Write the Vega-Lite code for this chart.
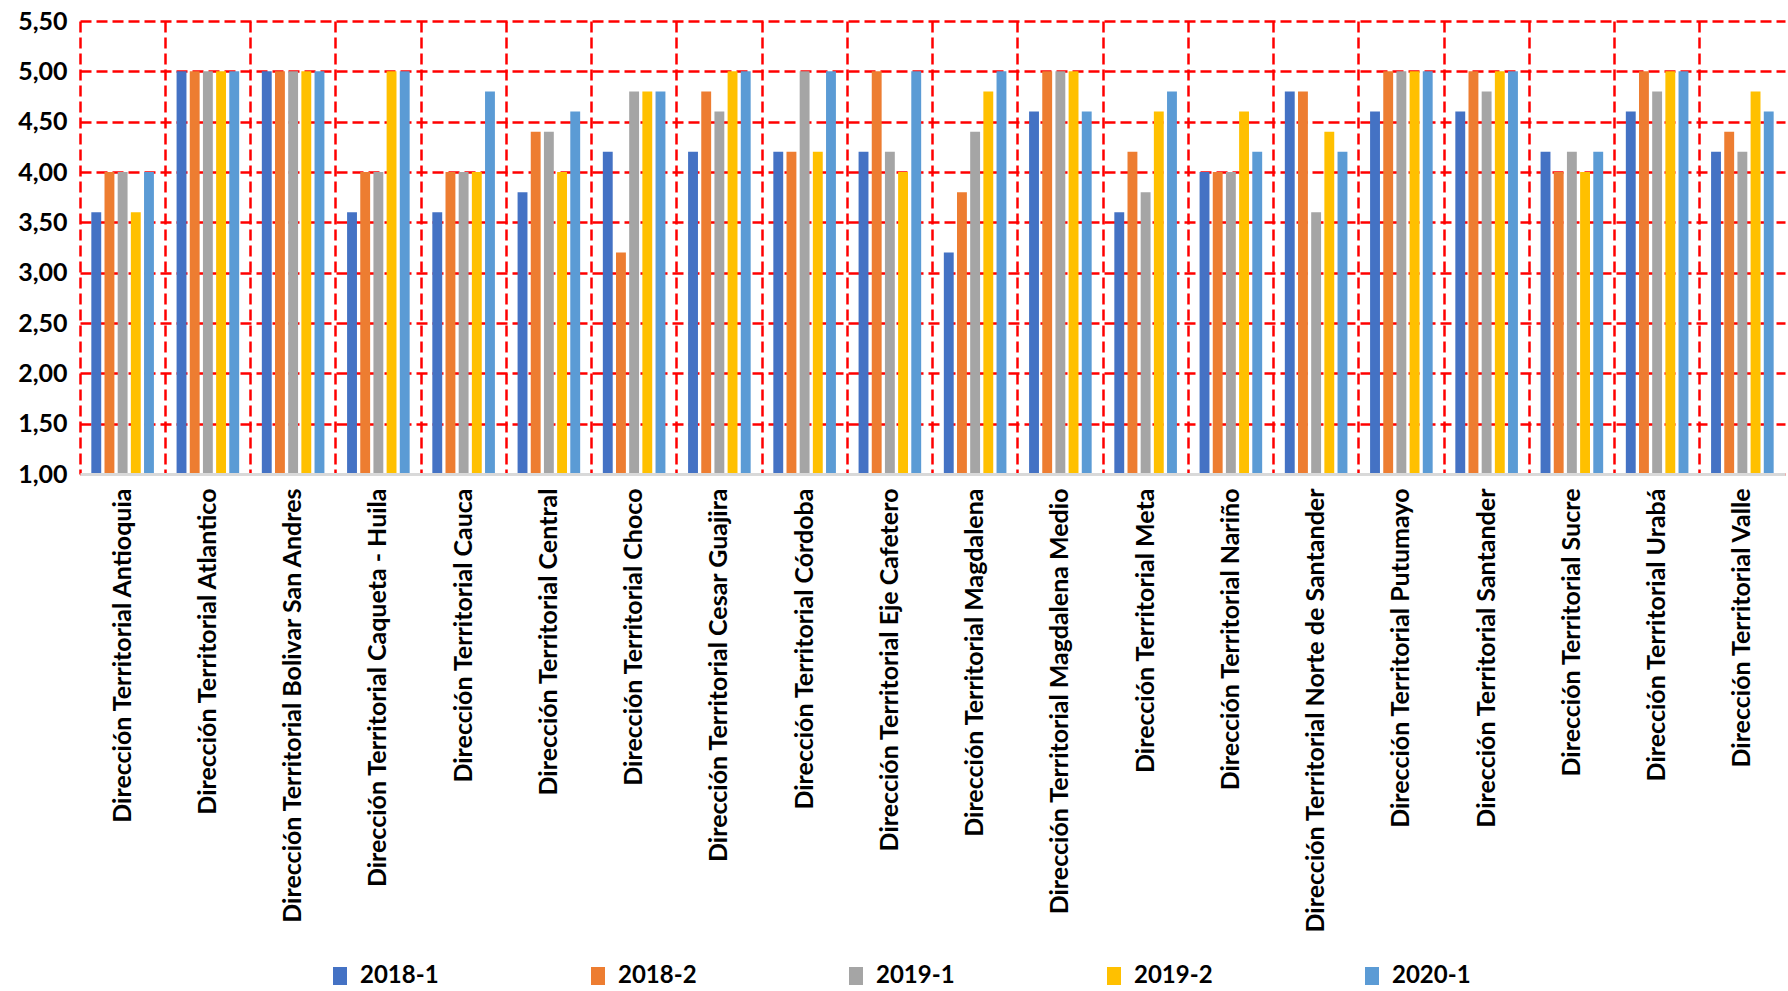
{
  "$schema": "https://vega.github.io/schema/vega-lite/v6.json",
  "width": 1705,
  "height": 453,
  "autosize": {"type": "none"},
  "padding": {"left": 80, "top": 21, "right": 3, "bottom": 517},
  "background": "white",
  "config": {
    "view": {"stroke": null},
    "font": "Lato"
  },
  "data": {
    "values": [
      {"d": "Dirección Territorial Antioquia", "p": "2018-1", "v": 3.6},
      {"d": "Dirección Territorial Antioquia", "p": "2018-2", "v": 4.0},
      {"d": "Dirección Territorial Antioquia", "p": "2019-1", "v": 4.0},
      {"d": "Dirección Territorial Antioquia", "p": "2019-2", "v": 3.6},
      {"d": "Dirección Territorial Antioquia", "p": "2020-1", "v": 4.0},
      {"d": "Dirección Territorial Atlantico", "p": "2018-1", "v": 5.0},
      {"d": "Dirección Territorial Atlantico", "p": "2018-2", "v": 5.0},
      {"d": "Dirección Territorial Atlantico", "p": "2019-1", "v": 5.0},
      {"d": "Dirección Territorial Atlantico", "p": "2019-2", "v": 5.0},
      {"d": "Dirección Territorial Atlantico", "p": "2020-1", "v": 5.0},
      {"d": "Dirección Territorial Bolivar San Andres", "p": "2018-1", "v": 5.0},
      {"d": "Dirección Territorial Bolivar San Andres", "p": "2018-2", "v": 5.0},
      {"d": "Dirección Territorial Bolivar San Andres", "p": "2019-1", "v": 5.0},
      {"d": "Dirección Territorial Bolivar San Andres", "p": "2019-2", "v": 5.0},
      {"d": "Dirección Territorial Bolivar San Andres", "p": "2020-1", "v": 5.0},
      {"d": "Dirección Territorial Caqueta - Huila", "p": "2018-1", "v": 3.6},
      {"d": "Dirección Territorial Caqueta - Huila", "p": "2018-2", "v": 4.0},
      {"d": "Dirección Territorial Caqueta - Huila", "p": "2019-1", "v": 4.0},
      {"d": "Dirección Territorial Caqueta - Huila", "p": "2019-2", "v": 5.0},
      {"d": "Dirección Territorial Caqueta - Huila", "p": "2020-1", "v": 5.0},
      {"d": "Dirección Territorial Cauca", "p": "2018-1", "v": 3.6},
      {"d": "Dirección Territorial Cauca", "p": "2018-2", "v": 4.0},
      {"d": "Dirección Territorial Cauca", "p": "2019-1", "v": 4.0},
      {"d": "Dirección Territorial Cauca", "p": "2019-2", "v": 4.0},
      {"d": "Dirección Territorial Cauca", "p": "2020-1", "v": 4.8},
      {"d": "Dirección Territorial Central", "p": "2018-1", "v": 3.8},
      {"d": "Dirección Territorial Central", "p": "2018-2", "v": 4.4},
      {"d": "Dirección Territorial Central", "p": "2019-1", "v": 4.4},
      {"d": "Dirección Territorial Central", "p": "2019-2", "v": 4.0},
      {"d": "Dirección Territorial Central", "p": "2020-1", "v": 4.6},
      {"d": "Dirección Territorial Choco", "p": "2018-1", "v": 4.2},
      {"d": "Dirección Territorial Choco", "p": "2018-2", "v": 3.2},
      {"d": "Dirección Territorial Choco", "p": "2019-1", "v": 4.8},
      {"d": "Dirección Territorial Choco", "p": "2019-2", "v": 4.8},
      {"d": "Dirección Territorial Choco", "p": "2020-1", "v": 4.8},
      {"d": "Dirección Territorial Cesar Guajira", "p": "2018-1", "v": 4.2},
      {"d": "Dirección Territorial Cesar Guajira", "p": "2018-2", "v": 4.8},
      {"d": "Dirección Territorial Cesar Guajira", "p": "2019-1", "v": 4.6},
      {"d": "Dirección Territorial Cesar Guajira", "p": "2019-2", "v": 5.0},
      {"d": "Dirección Territorial Cesar Guajira", "p": "2020-1", "v": 5.0},
      {"d": "Dirección Territorial Córdoba", "p": "2018-1", "v": 4.2},
      {"d": "Dirección Territorial Córdoba", "p": "2018-2", "v": 4.2},
      {"d": "Dirección Territorial Córdoba", "p": "2019-1", "v": 5.0},
      {"d": "Dirección Territorial Córdoba", "p": "2019-2", "v": 4.2},
      {"d": "Dirección Territorial Córdoba", "p": "2020-1", "v": 5.0},
      {"d": "Dirección Territorial Eje  Cafetero", "p": "2018-1", "v": 4.2},
      {"d": "Dirección Territorial Eje  Cafetero", "p": "2018-2", "v": 5.0},
      {"d": "Dirección Territorial Eje  Cafetero", "p": "2019-1", "v": 4.2},
      {"d": "Dirección Territorial Eje  Cafetero", "p": "2019-2", "v": 4.0},
      {"d": "Dirección Territorial Eje  Cafetero", "p": "2020-1", "v": 5.0},
      {"d": "Dirección Territorial Magdalena", "p": "2018-1", "v": 3.2},
      {"d": "Dirección Territorial Magdalena", "p": "2018-2", "v": 3.8},
      {"d": "Dirección Territorial Magdalena", "p": "2019-1", "v": 4.4},
      {"d": "Dirección Territorial Magdalena", "p": "2019-2", "v": 4.8},
      {"d": "Dirección Territorial Magdalena", "p": "2020-1", "v": 5.0},
      {"d": "Dirección Territorial Magdalena Medio", "p": "2018-1", "v": 4.6},
      {"d": "Dirección Territorial Magdalena Medio", "p": "2018-2", "v": 5.0},
      {"d": "Dirección Territorial Magdalena Medio", "p": "2019-1", "v": 5.0},
      {"d": "Dirección Territorial Magdalena Medio", "p": "2019-2", "v": 5.0},
      {"d": "Dirección Territorial Magdalena Medio", "p": "2020-1", "v": 4.6},
      {"d": "Dirección Territorial Meta", "p": "2018-1", "v": 3.6},
      {"d": "Dirección Territorial Meta", "p": "2018-2", "v": 4.2},
      {"d": "Dirección Territorial Meta", "p": "2019-1", "v": 3.8},
      {"d": "Dirección Territorial Meta", "p": "2019-2", "v": 4.6},
      {"d": "Dirección Territorial Meta", "p": "2020-1", "v": 4.8},
      {"d": "Dirección Territorial Nariño", "p": "2018-1", "v": 4.0},
      {"d": "Dirección Territorial Nariño", "p": "2018-2", "v": 4.0},
      {"d": "Dirección Territorial Nariño", "p": "2019-1", "v": 4.0},
      {"d": "Dirección Territorial Nariño", "p": "2019-2", "v": 4.6},
      {"d": "Dirección Territorial Nariño", "p": "2020-1", "v": 4.2},
      {"d": "Dirección Territorial Norte de Santander", "p": "2018-1", "v": 4.8},
      {"d": "Dirección Territorial Norte de Santander", "p": "2018-2", "v": 4.8},
      {"d": "Dirección Territorial Norte de Santander", "p": "2019-1", "v": 3.6},
      {"d": "Dirección Territorial Norte de Santander", "p": "2019-2", "v": 4.4},
      {"d": "Dirección Territorial Norte de Santander", "p": "2020-1", "v": 4.2},
      {"d": "Dirección Territorial Putumayo", "p": "2018-1", "v": 4.6},
      {"d": "Dirección Territorial Putumayo", "p": "2018-2", "v": 5.0},
      {"d": "Dirección Territorial Putumayo", "p": "2019-1", "v": 5.0},
      {"d": "Dirección Territorial Putumayo", "p": "2019-2", "v": 5.0},
      {"d": "Dirección Territorial Putumayo", "p": "2020-1", "v": 5.0},
      {"d": "Dirección Territorial Santander", "p": "2018-1", "v": 4.6},
      {"d": "Dirección Territorial Santander", "p": "2018-2", "v": 5.0},
      {"d": "Dirección Territorial Santander", "p": "2019-1", "v": 4.8},
      {"d": "Dirección Territorial Santander", "p": "2019-2", "v": 5.0},
      {"d": "Dirección Territorial Santander", "p": "2020-1", "v": 5.0},
      {"d": "Dirección Territorial Sucre", "p": "2018-1", "v": 4.2},
      {"d": "Dirección Territorial Sucre", "p": "2018-2", "v": 4.0},
      {"d": "Dirección Territorial Sucre", "p": "2019-1", "v": 4.2},
      {"d": "Dirección Territorial Sucre", "p": "2019-2", "v": 4.0},
      {"d": "Dirección Territorial Sucre", "p": "2020-1", "v": 4.2},
      {"d": "Dirección Territorial Urabá", "p": "2018-1", "v": 4.6},
      {"d": "Dirección Territorial Urabá", "p": "2018-2", "v": 5.0},
      {"d": "Dirección Territorial Urabá", "p": "2019-1", "v": 4.8},
      {"d": "Dirección Territorial Urabá", "p": "2019-2", "v": 5.0},
      {"d": "Dirección Territorial Urabá", "p": "2020-1", "v": 5.0},
      {"d": "Dirección Territorial Valle", "p": "2018-1", "v": 4.2},
      {"d": "Dirección Territorial Valle", "p": "2018-2", "v": 4.4},
      {"d": "Dirección Territorial Valle", "p": "2019-1", "v": 4.2},
      {"d": "Dirección Territorial Valle", "p": "2019-2", "v": 4.8},
      {"d": "Dirección Territorial Valle", "p": "2020-1", "v": 4.6}
    ]
  },
  "mark": {"type": "bar", "clip": true},
  "encoding": {
    "x": {
      "field": "d",
      "type": "nominal",
      "sort": null,
      "title": null,
      "scale": {"paddingInner": 0, "paddingOuter": 0},
      "axis": {
        "zindex": 1,
        "bandPosition": 0,
        "grid": true,
        "gridColor": "#ff0000",
        "gridDash": [11, 5],
        "gridWidth": 2.5,
        "ticks": false,
        "domainColor": "#d9d9d9",
        "domainWidth": 3,
        "labelAngle": -90,
        "labelFontSize": 25,
        "labelFontWeight": "bold",
        "labelColor": "#000000",
        "labelPadding": 14,
        "labelLimit": 600,
        "labelFont": "Lato"
      }
    },
    "xOffset": {
      "field": "p",
      "type": "nominal",
      "scale": {"paddingInner": 0.25, "paddingOuter": 0.86}
    },
    "y": {
      "field": "v",
      "type": "quantitative",
      "title": null,
      "scale": {"domain": [1, 5.5], "zero": false, "nice": false},
      "axis": {
        "values": [1, 1.5, 2, 2.5, 3, 3.5, 4, 4.5, 5, 5.5],
        "labelExpr": "replace(format(datum.value, '.2f'), '.', ',')",
        "grid": true,
        "gridColor": "#ff0000",
        "gridDash": [11, 5],
        "gridWidth": 2.5,
        "domain": false,
        "ticks": false,
        "labelFontSize": 25,
        "labelFontWeight": "bold",
        "labelColor": "#000000",
        "labelPadding": 13,
        "labelFont": "Lato"
      }
    },
    "y2": {"datum": 1},
    "color": {
      "field": "p",
      "type": "nominal",
      "scale": {
        "domain": ["2018-1", "2018-2", "2019-1", "2019-2", "2020-1"],
        "range": ["#4472C4", "#ED7D31", "#A5A5A5", "#FFC000", "#5B9BD5"]
      },
      "legend": {
        "title": null,
        "orient": "none",
        "direction": "horizontal",
        "legendX": 248,
        "legendY": 943,
        "symbolType": "M -0.78 -1 L 0.78 -1 L 0.78 1 L -0.78 1 Z",
        "symbolSize": 324,
        "symbolStrokeWidth": 0,
        "symbolOpacity": 1,
        "labelFontSize": 24,
        "labelFontWeight": "bold",
        "labelColor": "#000000",
        "labelFont": "Lato",
        "labelOffset": 8,
        "columnPadding": 147
      }
    }
  }
}
